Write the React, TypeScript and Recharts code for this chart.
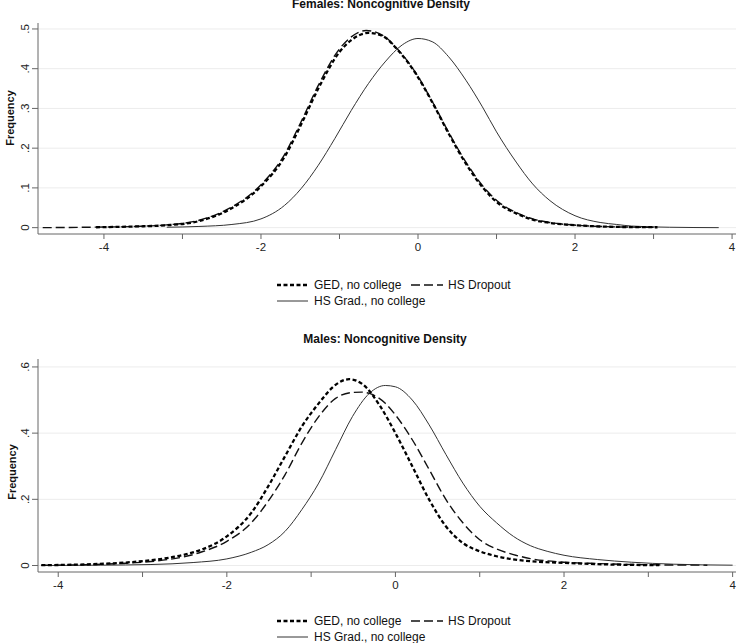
import React from "react";
import { LineChart, Line, XAxis, YAxis, CartesianGrid } from "recharts";

// ---------- Females ----------
const femaleGedX = [-4.1, -3.6, -3.2, -2.8, -2.4, -2.0, -1.7, -1.5, -1.27, -1.0, -0.85, -0.63, -0.45, -0.25, -0.03, 0.18, 0.39, 0.61, 0.82, 1.03, 1.25, 1.46, 1.68, 2.1, 2.5, 3.05];
const femaleGedY = [0.001, 0.003, 0.006, 0.016, 0.046, 0.104, 0.178, 0.255, 0.35, 0.442, 0.472, 0.49, 0.482, 0.445, 0.388, 0.316, 0.237, 0.161, 0.102, 0.06, 0.036, 0.02, 0.012, 0.005, 0.002, 0.001];

const femaleDropX = [-4.78, -4.2, -3.6, -3.2, -2.8, -2.4, -2.0, -1.7, -1.5, -1.27, -1.0, -0.85, -0.66, -0.45, -0.25, -0.03, 0.18, 0.39, 0.61, 0.82, 1.03, 1.25, 1.46, 1.68, 2.1, 2.5, 3.0];
const femaleDropY = [0.0, 0.001, 0.003, 0.007, 0.018, 0.049, 0.108, 0.184, 0.262, 0.358, 0.45, 0.48, 0.496, 0.484, 0.447, 0.39, 0.318, 0.24, 0.165, 0.106, 0.064, 0.038, 0.022, 0.013, 0.005, 0.002, 0.001];

const femaleGradX = [-3.2, -2.79, -2.37, -2.0, -1.7, -1.49, -1.27, -1.06, -0.85, -0.63, -0.42, -0.2, 0.0, 0.18, 0.39, 0.61, 0.82, 1.0, 1.25, 1.46, 1.68, 2.0, 2.32, 2.53, 2.72, 3.2, 3.83];
const femaleGradY = [0.001, 0.003, 0.008, 0.022, 0.056, 0.098, 0.157, 0.224, 0.295, 0.363, 0.417, 0.46, 0.476, 0.468, 0.43, 0.371, 0.304, 0.241, 0.165, 0.11, 0.068, 0.03, 0.013, 0.008, 0.004, 0.001, 0.0];

// ---------- Males ----------
const maleGedX = [-4.2, -3.6, -3.2, -2.9, -2.5, -2.3, -2.0, -1.71, -1.51, -1.31, -1.11, -0.91, -0.71, -0.55, -0.39, -0.19, 0.0, 0.2, 0.4, 0.6, 0.8, 1.0, 1.2, 1.6, 2.0, 2.4, 3.13];
const maleGedY = [0.001, 0.004, 0.009, 0.016, 0.033, 0.048, 0.088, 0.159, 0.239, 0.33, 0.42, 0.49, 0.546, 0.563, 0.548, 0.485, 0.4, 0.3, 0.199, 0.118, 0.068, 0.043, 0.028, 0.013, 0.008, 0.004, 0.001];

const maleDropX = [-4.2, -3.6, -3.2, -2.9, -2.31, -2.0, -1.71, -1.51, -1.31, -1.11, -0.91, -0.71, -0.51, -0.4, -0.31, -0.12, 0.0, 0.2, 0.4, 0.6, 0.8, 1.0, 1.2, 1.4, 1.6, 2.0, 2.4, 2.8, 3.7];
const maleDropY = [0.001, 0.003, 0.007, 0.012, 0.04, 0.073, 0.129, 0.194, 0.274, 0.37, 0.45, 0.505, 0.523, 0.524, 0.52, 0.49, 0.455, 0.38, 0.29, 0.199, 0.129, 0.078, 0.05, 0.033, 0.021, 0.01, 0.006, 0.003, 0.001];

const maleGradX = [-4.2, -3.5, -2.9, -2.4, -2.0, -1.71, -1.51, -1.31, -1.11, -0.91, -0.71, -0.51, -0.31, -0.12, 0.0, 0.2, 0.4, 0.6, 0.8, 1.0, 1.2, 1.4, 1.6, 1.8, 2.0, 2.4, 2.8, 3.3, 4.0];
const maleGradY = [0.0, 0.001, 0.003, 0.009, 0.02, 0.04, 0.063, 0.103, 0.169, 0.249, 0.35, 0.45, 0.52, 0.544, 0.54, 0.5, 0.425, 0.335, 0.249, 0.179, 0.129, 0.088, 0.06, 0.043, 0.031, 0.018, 0.01, 0.004, 0.001];

// ---------- Axes / labels ----------
const xTicks = [-4, -3, -2, -1, 0, 1, 2, 3, 4];
const femaleYTicks = [0, 0.1, 0.2, 0.3, 0.4, 0.5];
const maleYTicks = [0, 0.2, 0.4, 0.6];
const femaleTitle = "Females: Noncognitive Density";
const maleTitle = "Males: Noncognitive Density";
const yAxisLabel = "Frequency";
const legendGed = "GED, no college";
const legendDrop = "HS Dropout";
const legendGrad = "HS Grad., no college";

const FONT = "'Liberation Sans', Arial, Helvetica, sans-serif";
const AXIS = "#666";

const toPts = (xs: number[], ys: number[]) => xs.map((x, i) => ({ x, y: ys[i] }));

const fmtY = (v: number) => (v === 0 ? "0" : String(+v.toFixed(2)).replace(/^0\./, "."));
const fmtX = (v: number) => (Math.abs(v) % 2 === 0 ? String(v) : "");

const YTick = (props: any) => {
  const { x, y, payload } = props;
  return (
    <g transform={`translate(${x - 1},${y})`}>
      <text transform="rotate(-90)" textAnchor="middle" fontSize={11.5} fill="#222" fontFamily={FONT}>
        {fmtY(payload.value)}
      </text>
    </g>
  );
};

const XTick = (props: any) => {
  const { x, y, payload } = props;
  return (
    <text x={x} y={y} dy={9.5} textAnchor="middle" fontSize={11.5} fill="#222" fontFamily={FONT}>
      {fmtX(payload.value)}
    </text>
  );
};

type PanelProps = {
  top: number;
  height: number;
  marginTop: number;
  xAxisHeight: number;
  xDomain: [number, number];
  yDomain: [number, number];
  yTicks: number[];
  ged: { x: number; y: number }[];
  drop: { x: number; y: number }[];
  grad: { x: number; y: number }[];
};

const Panel = (p: PanelProps) => (
  <div style={{ position: "absolute", left: 0, top: p.top }}>
    <LineChart width={741} height={p.height} margin={{ top: p.marginTop, right: 5, left: 0, bottom: 0 }}>
      <CartesianGrid vertical={false} stroke="#ececec" horizontalValues={p.yTicks} />
      <XAxis
        dataKey="x"
        type="number"
        domain={p.xDomain}
        allowDataOverflow
        ticks={xTicks}
        tick={<XTick />}
        tickSize={5}
        height={p.xAxisHeight}
        stroke={AXIS}
        interval={0}
      />
      <YAxis
        dataKey="y"
        type="number"
        domain={p.yDomain}
        allowDataOverflow
        ticks={p.yTicks}
        tick={<YTick />}
        tickSize={6}
        width={38}
        stroke={AXIS}
        interval={0}
      />
      <Line data={p.grad} dataKey="y" type="monotone" stroke="#333" strokeWidth={1} dot={false} isAnimationActive={false} />
      <Line data={p.drop} dataKey="y" type="monotone" stroke="#111" strokeWidth={1.4} strokeDasharray="9 4" dot={false} isAnimationActive={false} />
      <Line data={p.ged} dataKey="y" type="monotone" stroke="#000" strokeWidth={2.3} strokeDasharray="4 2.5" dot={false} isAnimationActive={false} />
    </LineChart>
  </div>
);

const Legend = ({ y1, y2 }: { y1: number; y2: number }) => (
  <g fontFamily={FONT} fontSize={12} fill="#111">
    <line x1={277} x2={308} y1={y1} y2={y1} stroke="#000" strokeWidth={2.3} strokeDasharray="4 2.5" />
    <text x={314} y={y1} dy={4.3}>{legendGed}</text>
    <line x1={411} x2={443} y1={y1} y2={y1} stroke="#111" strokeWidth={1.4} strokeDasharray="9 4" />
    <text x={448} y={y1} dy={4.3}>{legendDrop}</text>
    <line x1={277} x2={308} y1={y2} y2={y2} stroke="#333" strokeWidth={1} />
    <text x={314} y={y2} dy={4.3}>{legendGrad}</text>
  </g>
);

export default function App() {
  return (
    <div style={{ position: "absolute", left: 0, top: 0, width: 741, height: 643, background: "#fff", overflow: "hidden" }}>
      <Panel
        top={0}
        height={260}
        marginTop={23}
        xAxisHeight={26}
        xDomain={[-4.84, 4.05]}
        yDomain={[-0.016, 0.515]}
        yTicks={femaleYTicks}
        ged={toPts(femaleGedX, femaleGedY)}
        drop={toPts(femaleDropX, femaleDropY)}
        grad={toPts(femaleGradX, femaleGradY)}
      />
      <Panel
        top={330}
        height={270}
        marginTop={29}
        xAxisHeight={28}
        xDomain={[-4.24, 4.04]}
        yDomain={[-0.0196, 0.624]}
        yTicks={maleYTicks}
        ged={toPts(maleGedX, maleGedY)}
        drop={toPts(maleDropX, maleDropY)}
        grad={toPts(maleGradX, maleGradY)}
      />
      <svg width={741} height={643} style={{ position: "absolute", left: 0, top: 0, pointerEvents: "none" }}>
        <text x={381} y={8} textAnchor="middle" fontFamily={FONT} fontSize={12} fontWeight="bold" fill="#111">
          {femaleTitle}
        </text>
        <text x={385} y={343} textAnchor="middle" fontFamily={FONT} fontSize={12} fontWeight="bold" fill="#111">
          {maleTitle}
        </text>
        <text transform="translate(14,118) rotate(-90)" textAnchor="middle" fontFamily={FONT} fontSize={11} fontWeight="bold" fill="#111">
          {yAxisLabel}
        </text>
        <text transform="translate(16,472) rotate(-90)" textAnchor="middle" fontFamily={FONT} fontSize={11} fontWeight="bold" fill="#111">
          {yAxisLabel}
        </text>
        <Legend y1={285} y2={301} />
        <Legend y1={621} y2={637} />
      </svg>
    </div>
  );
}
